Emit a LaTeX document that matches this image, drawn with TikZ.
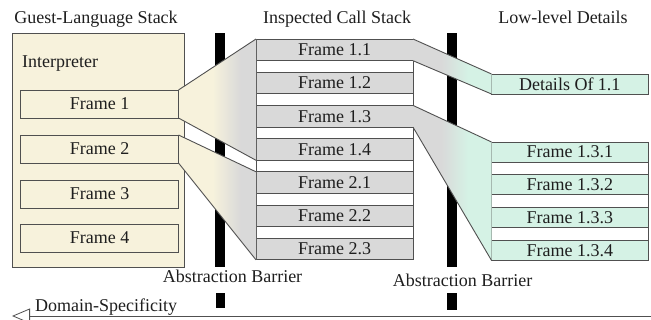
\documentclass[tikz,border=0pt]{standalone}
\usepackage{fontspec}
\setmainfont{Liberation Serif}
\usetikzlibrary{arrows.meta}
\definecolor{beigec}{RGB}{247,242,220}
\definecolor{grayc}{RGB}{217,217,217}
\definecolor{greenc}{RGB}{213,242,229}
\definecolor{edgec}{RGB}{80,80,80}
\definecolor{textc}{RGB}{30,30,30}
\pgfdeclarehorizontalshading{beigetogray}{100bp}{color(0bp)=(beigec); color(47bp)=(beigec); color(65bp)=(grayc); color(100bp)=(grayc)}
\pgfdeclarehorizontalshading{graytogreen}{100bp}{color(0bp)=(grayc); color(43bp)=(grayc); color(60bp)=(greenc); color(100bp)=(greenc)}
\begin{document}
\begin{tikzpicture}[x=1pt,y=-1pt,
  font=\fontsize{18}{21}\selectfont,
  every node/.style={text=textc},
  box/.style={draw=edgec, line width=0.9pt, anchor=north west, inner sep=0pt, outer sep=0pt},
  lframe/.style={box, fill=beigec, minimum width=157.8pt, minimum height=28pt},
  mframe/.style={box, fill=grayc, minimum width=157pt, minimum height=21.7pt},
  rframe/.style={box, fill=greenc, minimum width=156.5pt, minimum height=20pt},
  barrier/.style={fill=black, draw=none, anchor=north west, inner sep=0pt, outer sep=0pt},
  edge/.style={draw=edgec, line width=0.9pt},
  label/.style={inner sep=0pt, anchor=base}]
\useasboundingbox (0,0) rectangle (651,320);

% titles
\node[label] (t1) at (96,23.5) {Guest-Language Stack};
\node[label] (t2) at (337,23.5) {Inspected Call Stack};
\node[label] (t3) at (563,23.5) {Low-level Details};

% left container
\node[box, fill=beigec, minimum width=172pt, minimum height=234pt] (guest) at (12,33) {};
\node[label, anchor=base west] (interp) at (22,68) {Interpreter};
\node[lframe] (f1) at (20.7,90) {Frame 1};
\node[lframe] (f2) at (20.7,135) {Frame 2};
\node[lframe] (f3) at (20.7,180) {Frame 3};
\node[lframe] (f4) at (20.7,224) {Frame 4};

% barriers
\node[barrier, minimum width=10pt, minimum height=234pt] (bar1) at (215,33) {};
\node[barrier, minimum width=9pt, minimum height=15.6pt] (bar1low) at (215.5,292.7) {};
\node[barrier, minimum width=10pt, minimum height=234pt] (bar2) at (446.7,33) {};
\node[barrier, minimum width=10pt, minimum height=17pt] (bar2low) at (446.7,292.7) {};

% middle column
\node[box, fill=white, minimum width=157pt, minimum height=220.9pt] (midcol) at (256,39) {};
\node[mframe] (m11) at (256,39) {Frame 1.1};
\node[mframe] (m12) at (256,72.2) {Frame 1.2};
\node[mframe] (m13) at (256,105.4) {Frame 1.3};
\node[mframe] (m14) at (256,138.6) {Frame 1.4};
\node[mframe] (m21) at (256,171.8) {Frame 2.1};
\node[mframe] (m22) at (256,205) {Frame 2.2};
\node[mframe] (m23) at (256,238.2) {Frame 2.3};

% right column
\node[rframe] (d11) at (491.5,74) {Details Of 1.1};
\node[box, fill=white, minimum width=156.5pt, minimum height=118.4pt] (rcol) at (491.5,142) {};
\node[rframe] (r131) at (491.5,142) {Frame 1.3.1};
\node[rframe] (r132) at (491.5,174.8) {Frame 1.3.2};
\node[rframe] (r133) at (491.5,207.6) {Frame 1.3.3};
\node[rframe] (r134) at (491.5,240.4) {Frame 1.3.4};

% funnels
\path[shading=beigetogray] (f1.north east) -- (m11.north west) -- (m14.south west) -- (f1.south east) -- cycle;
\path[shading=beigetogray] (f2.north east) -- (m21.north west) -- (m23.south west) -- (f2.south east) -- cycle;
\path[shading=graytogreen] (m11.north east) -- (d11.north west) -- (d11.south west) -- (m11.south east) -- cycle;
\path[shading=graytogreen] (m13.north east) -- (r131.north west) -- (r134.south west) -- (m13.south east) -- cycle;
\draw[edge] (f1.north east) -- (m11.north west);
\draw[edge] (f1.south east) -- (m14.south west);
\draw[edge] (f2.north east) -- (m21.north west);
\draw[edge] (f2.south east) -- (m23.south west);
\draw[edge] (m11.north east) -- (d11.north west);
\draw[edge] (m11.south east) -- (d11.south west);
\draw[edge] (m13.north east) -- (r131.north west);
\draw[edge] (m13.south east) -- (r134.south west);

% redraw frame borders over funnel fills
\draw[edge] (f1.north west) rectangle (f1.south east);
\draw[edge] (f2.north west) rectangle (f2.south east);

% barrier labels
\node[label] (ab1) at (232.5,283) {Abstraction Barrier};
\node[label] (ab2) at (462.5,287) {Abstraction Barrier};

% domain-specificity axis
\coordinate (dsR) at (651,316);
\coordinate (dsL) at (12,316);
\draw[draw=edgec, line width=0.8pt, -{Triangle[open, length=18pt, width=15pt, line width=0.8pt]}] (dsR) -- (dsL);
\node[label, anchor=base west] (ds) at (35,311.5) {Domain-Specificity};
\end{tikzpicture}
\end{document}
